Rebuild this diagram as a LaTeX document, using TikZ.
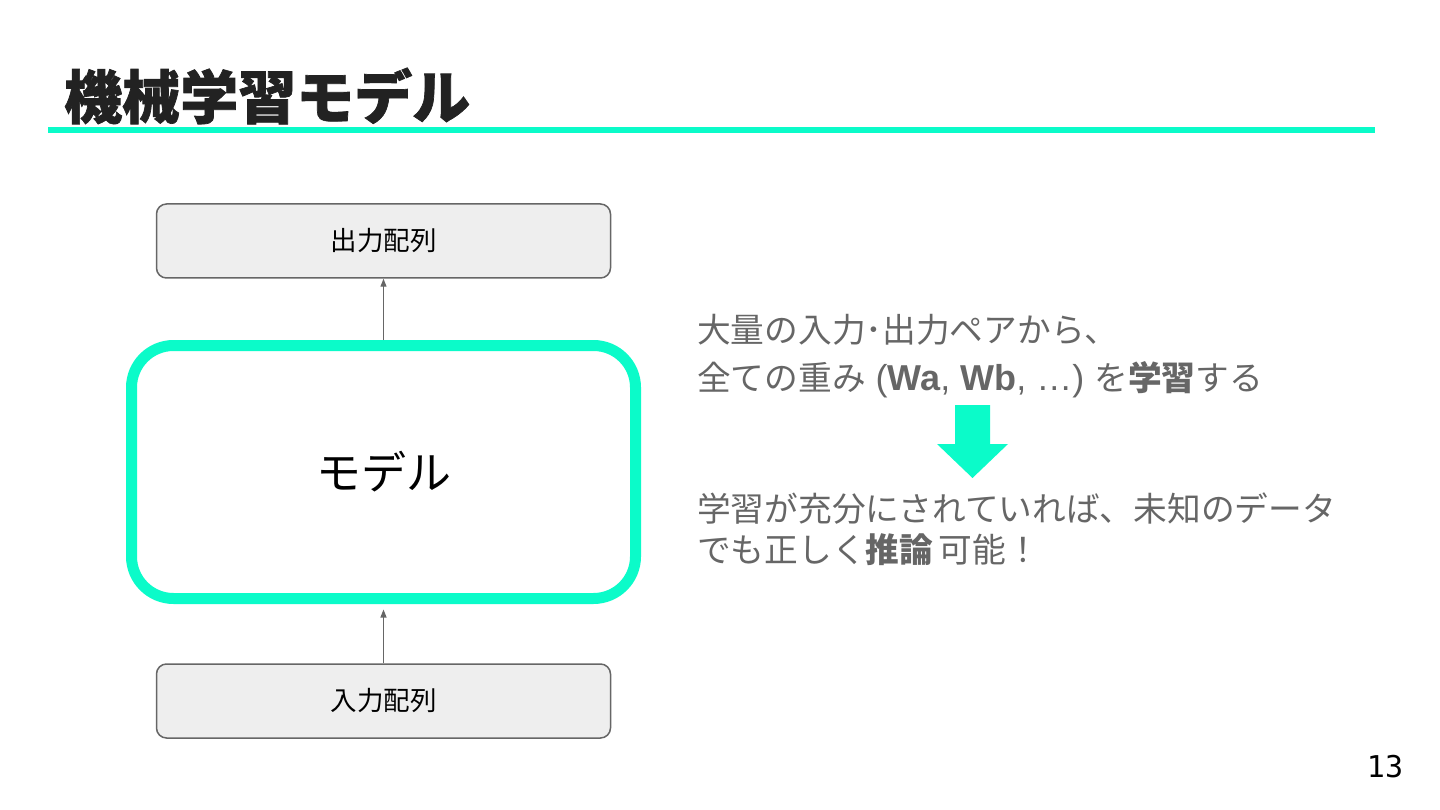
\documentclass[tikz,border=0pt]{standalone}
\usepackage{fontspec}
\setmainfont{Liberation Sans}
\newfontfamily\cjk{Noto Sans CJK JP}
\newfontfamily\cjkheavy[BoldFeatures={FakeBold=1.2}]{Noto Sans CJK JP}
\newfontfamily\pnum{DejaVu Sans Mono}
\usetikzlibrary{arrows.meta}
\definecolor{teal1}{HTML}{0BFBC9}
\definecolor{boxfill}{HTML}{EEEEEE}
\definecolor{boxline}{HTML}{666666}
\definecolor{txtgray}{HTML}{666666}
\definecolor{titlecol}{HTML}{222222}
\tikzset{
  iobox/.style={draw=boxline, fill=boxfill, line width=1.5pt, rounded corners=10pt,
    minimum width=454pt, minimum height=74pt, inner sep=0pt,
    font=\cjk\fontsize{26.5}{30}\selectfont, text=black},
  modelbox/.style={draw=teal1, line width=11pt, rounded corners=42pt,
    minimum width=504pt, minimum height=253pt, inner sep=0pt,
    font=\cjk\fontsize{45}{50}\selectfont, text=black},
  conn/.style={draw=boxline, line width=1.3pt, -{Triangle[length=8pt,width=6pt]}},
  rtext/.style={anchor=base west, inner sep=0pt, text=txtgray, font=\fontsize{33.7}{38}\selectfont},
}
\begin{document}
\begin{tikzpicture}[x=1pt, y=-1pt]
\useasboundingbox (0,0) rectangle (1440,810);
% title
\node[anchor=west, inner sep=0pt, text=titlecol, font=\cjkheavy\bfseries\fontsize{58}{64}\selectfont] (title) at (64,96) {機械学習モデル};
\draw[teal1, line width=6pt] (48,130) -- (1375,130);
% boxes
\node[iobox] (out) at (383.5,241) {出力配列};
\node[modelbox] (model) at (383.5,472) {モデル};
\node[iobox] (inp) at (383.5,701) {入力配列};
\draw[conn] (model.north) -- (out.south);
\draw[conn] (inp.north) -- ([yshift=-5.5pt]model.south);
% right text
\node[rtext] (l1) at (697,342) {\cjk 大量の入力･出力ペアから、};
\node[rtext] (l2) at (697,390) {\cjk 全ての重み\normalfont\fontsize{36}{38}\selectfont\ (\textbf{Wa}, \textbf{Wb}, …) \cjk\fontsize{33.7}{38}\selectfont を\textbf{学習}する};
\node[rtext] (l3) at (697,521) {\cjk 学習が充分にされていれば、未知のデータ};
\node[rtext] (l4) at (697,562) {\cjk でも正しく\textbf{推論}\,可能！};
% big arrow
\fill[teal1] (955,405) -- (990,405) -- (990,444) -- (1008,444) -- (972.5,478) -- (937,444) -- (955,444) -- cycle;
% page number
\node[anchor=base, inner sep=0pt, font=\pnum\fontsize{30}{34}\selectfont, text=black] (pg) at (1385,777) {13};
\end{tikzpicture}
\end{document}
